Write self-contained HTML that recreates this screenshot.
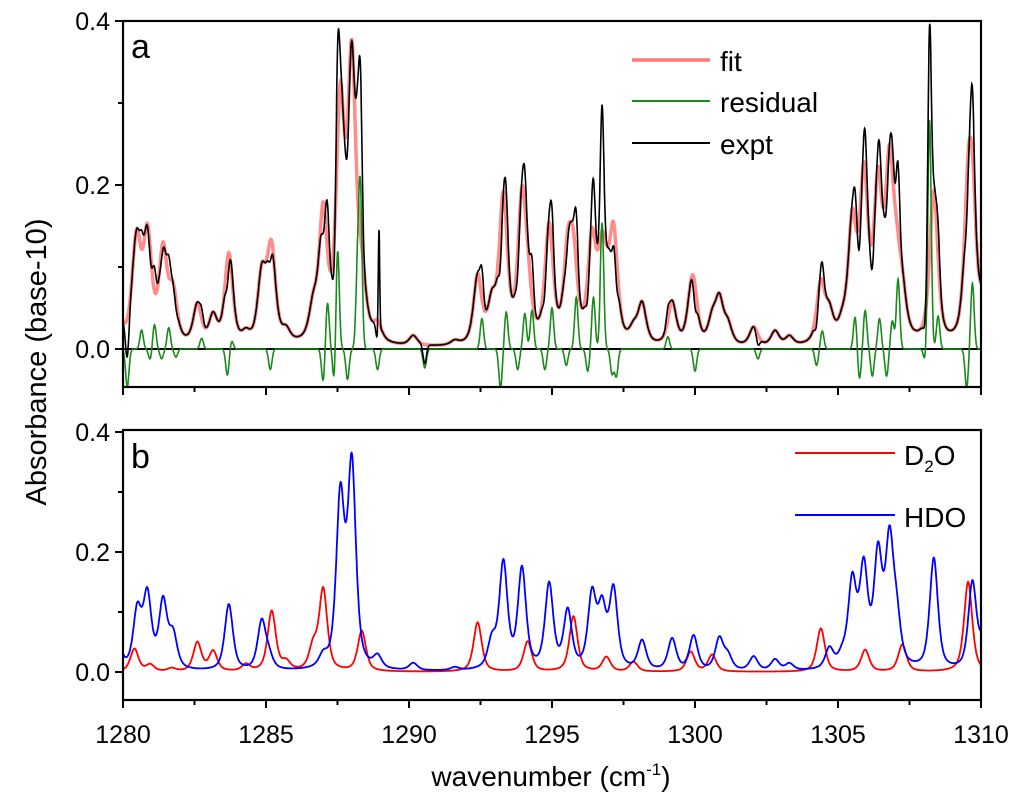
<!DOCTYPE html>
<html><head><meta charset="utf-8"><style>
body{margin:0;background:#fff;}
svg{display:block;font-family:"Liberation Sans",sans-serif;}
</style></head><body>
<svg id="chart" width="1024" height="804" viewBox="0 0 1024 804"></svg>
<script>
// ---- data ----
const hdoPos = [1279.8,1280.5,1280.85,1281.4,1281.75,1283.7,1284.85,1285.1,1287.0,1287.6,1288.0,1288.9,1290.15,1291.6,1292.9,1293.3,1293.95,1294.9,1295.55,1296.4,1296.75,1297.15,1298.15,1299.2,1299.95,1300.85,1301.15,1302.05,1302.8,1303.3,1304.7,1305.15,1305.5,1305.9,1306.4,1306.8,1307.05,1308.35,1309.7,1310.1];
const hdoAmp = [0.05,0.095,0.12,0.11,0.055,0.11,0.08,0.02,0.018,0.28,0.335,0.02,0.012,0.005,0.045,0.175,0.165,0.14,0.095,0.12,0.095,0.13,0.048,0.052,0.057,0.052,0.023,0.023,0.018,0.011,0.033,0.018,0.14,0.16,0.18,0.2,0.07,0.185,0.145,0.05];
const d2oPos = [1280.4,1280.95,1281.7,1282.6,1283.15,1284.3,1285.2,1285.7,1286.65,1287.0,1288.35,1292.4,1294.15,1295.75,1296.9,1297.85,1299.85,1300.6,1304.4,1305.95,1307.25,1309.55];
const d2oAmp = [0.038,0.011,0.005,0.048,0.033,0.011,0.1,0.014,0.038,0.135,0.067,0.082,0.05,0.092,0.024,0.016,0.033,0.028,0.072,0.036,0.045,0.15];
const resPos = [1280.15,1280.65,1280.95,1281.1,1281.35,1281.6,1281.85,1282.75,1283.65,1283.8,1285.15,1287.0,1287.15,1287.4,1287.5,1287.85,1288.2,1288.3,1288.9,1290.55,1292.55,1293.2,1293.4,1293.8,1294.05,1294.3,1294.75,1295.0,1295.5,1295.85,1296.25,1296.45,1296.75,1297.1,1297.25,1299.05,1300.0,1302.2,1304.25,1304.45,1305.6,1305.75,1305.95,1306.2,1306.45,1306.7,1306.9,1307.1,1308.05,1308.2,1308.5,1309.5,1309.7];
const resAmp = [-0.046,0.023,-0.013,0.03,-0.012,0.026,-0.01,0.013,-0.032,0.01,-0.025,-0.04,0.057,-0.05,0.13,-0.037,0.088,0.185,-0.025,-0.023,0.037,-0.047,0.045,-0.025,0.043,0.047,-0.025,0.05,-0.02,0.063,-0.027,0.063,0.154,-0.03,-0.033,0.015,-0.027,-0.012,-0.02,0.022,0.04,-0.037,0.047,-0.033,0.037,-0.033,0.034,0.085,-0.015,0.28,0.04,-0.047,0.08];
const spikePos = [1288.95];
const spikeAmp = [0.13];
const xTicks = [1280,1285,1290,1295,1300,1305,1310];
const yTicks = [0.0,0.2,0.4];

// ---- geometry ----
const X0=123, X1=981, W0=1280, W1=1310;
const xs = w => X0 + (w-W0)/(W1-W0)*(X1-X0);
const ya = v => 349 - v*820;   // panel a
const yb = v => 672 - v*600;   // panel b
const NS="http://www.w3.org/2000/svg";
const svg=document.getElementById('chart');
function mk(tag, attrs, parent){const e=document.createElementNS(NS,tag);for(const k in attrs)e.setAttribute(k,attrs[k]);(parent||svg).appendChild(e);return e;}

function peak(w,p,a,hw){const d=(w-p)/hw;return a*(0.6/(1+d*d)+0.4*Math.exp(-0.693*d*d));}
function gpk(w,p,a,hw){const d=(w-p)/hw;return a*Math.exp(-0.693*d*d);}
function sumPk(w,pos,amp,hw,f){let s=0;for(let i=0;i<pos.length;i++)s+=f(w,pos[i],amp[i],hw);return s;}

const grid=[];for(let w=W0;w<=W1+1e-9;w+=0.01)grid.push(w);
const hdo=grid.map(w=>sumPk(w,hdoPos,hdoAmp,0.17,peak));
const d2o=grid.map(w=>sumPk(w,d2oPos,d2oAmp,0.17,peak));
const fit=grid.map((w,i)=>hdo[i]+d2o[i]);
const res=grid.map(w=>sumPk(w,resPos,resAmp,0.07,gpk));
const expt=grid.map((w,i)=>fit[i]+res[i]+sumPk(w,spikePos,spikeAmp,0.03,gpk));

function pathD(vals,yf){return vals.map((v,i)=>(i?'L':'M')+xs(grid[i]).toFixed(1)+' '+yf(v).toFixed(1)).join('');}

const defs=mk('defs',{});
const ca=mk('clipPath',{id:'ca'},defs);mk('rect',{x:X0,y:21,width:X1-X0,height:366},ca);
const cb=mk('clipPath',{id:'cb'},defs);mk('rect',{x:X0,y:430,width:X1-X0,height:270},cb);

// panel a
const ga=mk('g',{'clip-path':'url(#ca)'});

let e;
e=mk('line',{x1:X0,x2:X1,y1:ya(0),y2:ya(0),stroke:'#000','stroke-width':2},ga);

e=mk('path',{d:pathD(fit,ya),fill:'none',stroke:'#f77','stroke-width':3.5,'stroke-opacity':0.85},ga);

e=mk('path',{d:pathD(res,ya),fill:'none',stroke:'#1a8a1a','stroke-width':1.6},ga);

e=mk('path',{d:pathD(expt,ya),fill:'none',stroke:'#000','stroke-width':1.6},ga);


// panel b
const gb=mk('g',{'clip-path':'url(#cb)'});

e=mk('path',{d:pathD(d2o,yb),fill:'none',stroke:'#f00','stroke-width':1.8},gb);

e=mk('path',{d:pathD(hdo,yb),fill:'none',stroke:'#00f','stroke-width':1.8},gb);


// frames, ticks
function frame(top,bot,yf,name){
  e=mk('rect',{x:X0,y:top,width:X1-X0,height:bot-top,fill:'none',stroke:'#000','stroke-width':2.2});
  
  for(let w=W0;w<=W1;w+=2.5){
    const maj=(Math.abs(w%5)<1e-6);
    e=mk('line',{x1:xs(w),x2:xs(w),y1:bot,y2:bot+(maj?8:5),stroke:'#000','stroke-width':2});
    
  }
  for(let v=0;v<=0.4001;v+=0.1){
    const maj=(Math.round(v*10)%2===0);
    e=mk('line',{x1:X0,x2:X0-(maj?8:5),y1:yf(v),y2:yf(v),stroke:'#000','stroke-width':2});
    
  }
  yTicks.forEach(v=>{
    e=mk('text',{x:110,y:yf(v)+9,'text-anchor':'end','font-size':25,fill:'#000'});
    e.textContent=v.toFixed(1);
    
  });
}
frame(21,387,ya,'panel-a');
frame(430,700,yb,'panel-b');
xTicks.forEach(w=>{
  e=mk('text',{x:xs(w),y:743,'text-anchor':'middle','font-size':25,fill:'#000'});
  e.textContent=w;
  
});
</script>
<svg width="1024" height="804" style="position:absolute;left:0;top:0;font-family:'Liberation Sans',sans-serif">
<text x="131" y="58" font-size="34">a</text>
<text x="131" y="468" font-size="34">b</text>
<text transform="translate(46,362) rotate(-90)" text-anchor="middle" font-size="29">Absorbance (base-10)</text>
<text x="551" y="786" text-anchor="middle" font-size="28">wavenumber (cm<tspan font-size="17" dy="-11">-1</tspan><tspan dy="11">)</tspan></text>
<g>
<line x1="632" x2="710" y1="60" y2="60" stroke="#f77" stroke-width="3.5"/>
<text x="720" y="71" font-size="28">fit</text>
<line x1="632" x2="710" y1="101" y2="101" stroke="#1a8a1a" stroke-width="2"/>
<text x="720" y="112" font-size="28">residual</text>
<line x1="632" x2="710" y1="143" y2="143" stroke="#000" stroke-width="2"/>
<text x="720" y="154" font-size="28">expt</text>
</g>
<g>
<line x1="795" x2="895" y1="453" y2="453" stroke="#f00" stroke-width="2"/>
<text x="904" y="465" font-size="28">D<tspan font-size="17" dy="7">2</tspan><tspan dy="-7">O</tspan></text>
<line x1="795" x2="895" y1="515" y2="515" stroke="#00f" stroke-width="2"/>
<text x="904" y="527" font-size="28">HDO</text>
</g>
</svg>
</body></html>
